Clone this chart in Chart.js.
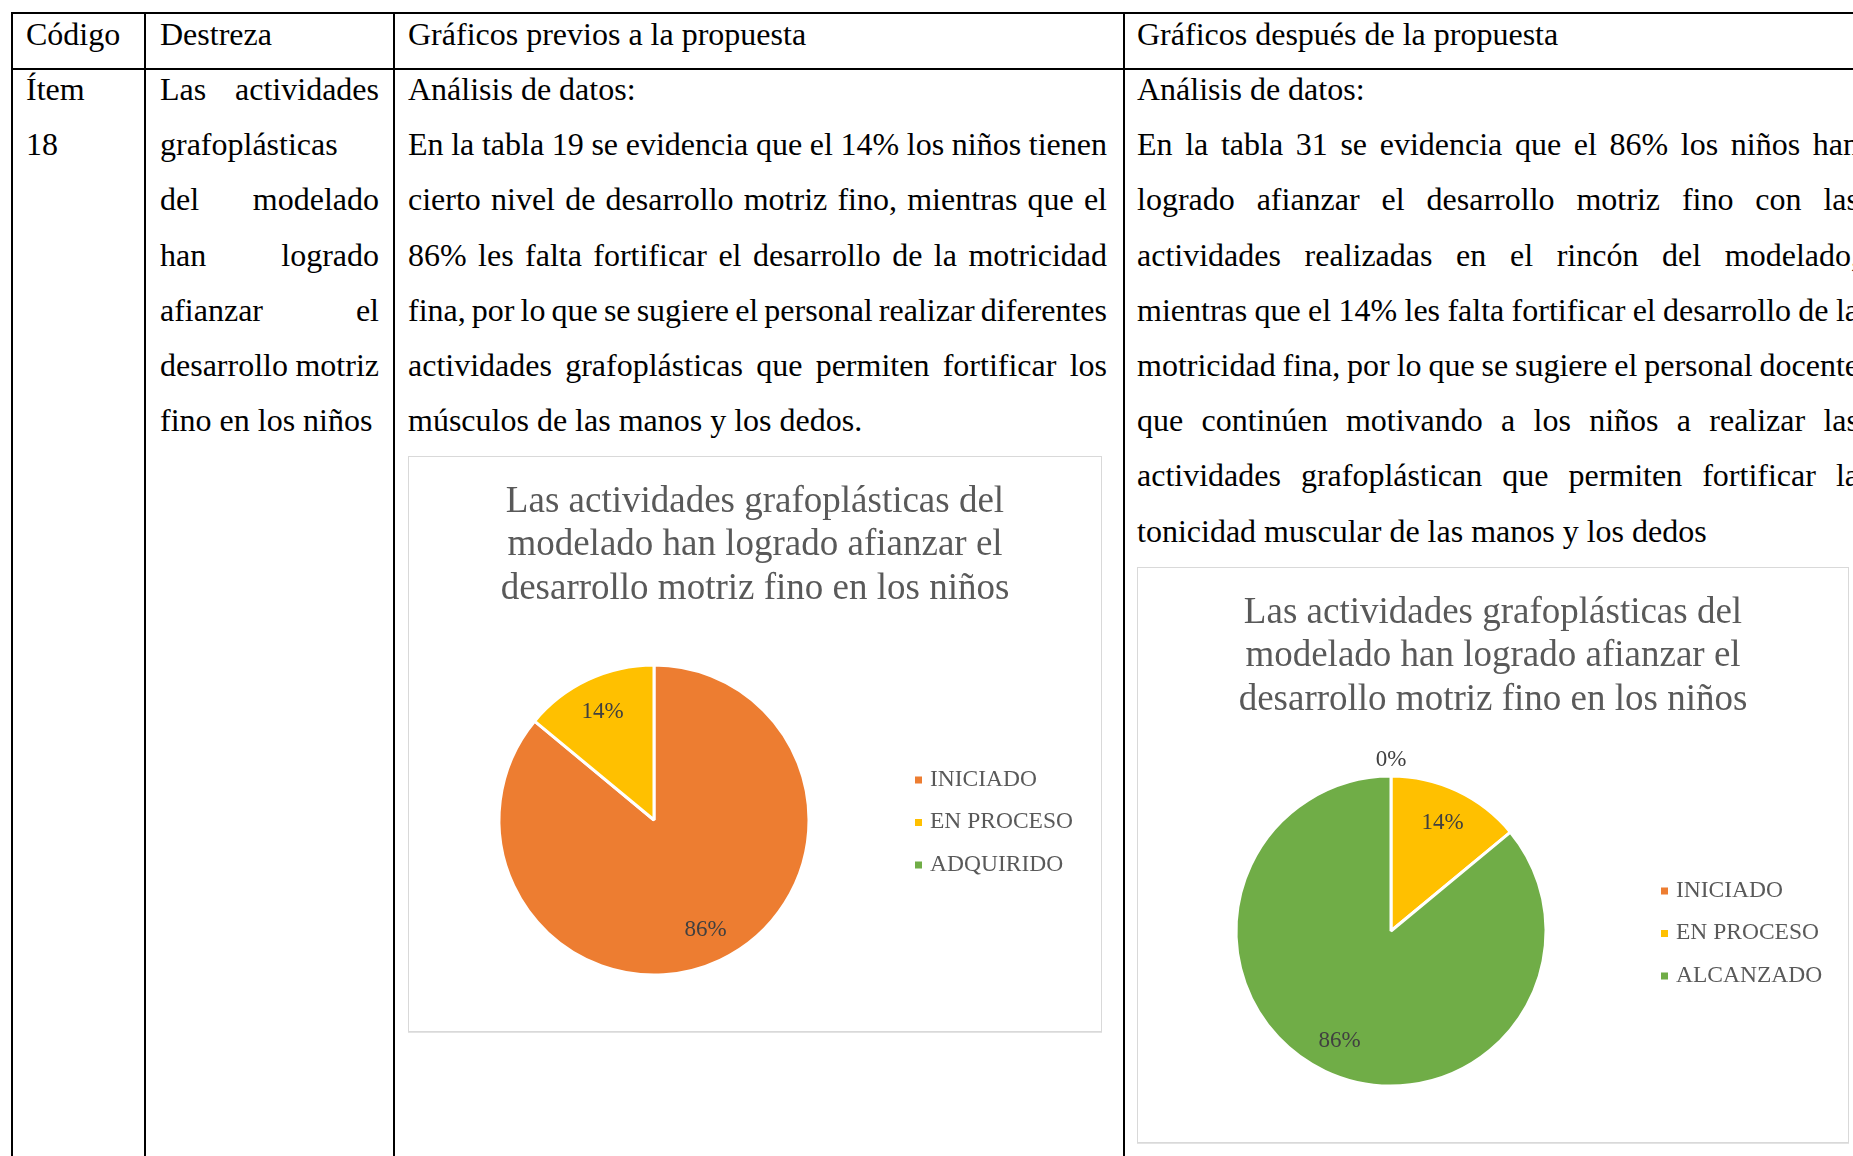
<!DOCTYPE html>
<html lang="es">
<head>
<meta charset="utf-8">
<title>Ítem 18 - gráficos previos y después de la propuesta</title>
<script src="https://cdn.jsdelivr.net/npm/chart.js@4.4.1/dist/chart.umd.min.js"></script>
<style>
  body {
    margin: 0;
    width: 1853px;
    height: 1156px;
    overflow: hidden;
    background: #fff;
    font-family: "Liberation Serif", "Times New Roman", serif;
    color: #000;
    position: relative;
  }
  .rule { position: absolute; background: #000; }
  .cell { position: absolute; font-size: 32px; line-height: 55.2px; }
  .cell div { white-space: nowrap; }
  .chart-box {
    position: absolute;
    border: 1px solid #d9d9d9;
    box-shadow: 0 1px 0 #e3e3e3;
    background: #fff;
  }
  .chart-box canvas { display: block; }
</style>
</head>
<body>

<!-- table rules -->
<div class="rule" style="left:11px; top:12px; width:1842px; height:2px;"></div>
<div class="rule" style="left:11px; top:68px; width:1842px; height:2px;"></div>
<div class="rule" style="left:11px; top:12px; width:2px; height:1144px;"></div>
<div class="rule" style="left:144px; top:12px; width:2px; height:1144px;"></div>
<div class="rule" style="left:393px; top:12px; width:2px; height:1144px;"></div>
<div class="rule" style="left:1123px; top:12px; width:2px; height:1144px;"></div>

<!-- header row -->
<div class="cell" style="left:26px; top:7px;"><div>Código</div></div>
<div class="cell" style="left:160px; top:7px;"><div>Destreza</div></div>
<div class="cell" style="left:408px; top:7px;"><div>Gráficos previos a la propuesta</div></div>
<div class="cell" style="left:1137px; top:7px;"><div>Gráficos después de la propuesta</div></div>

<!-- body row -->
<div class="cell" style="left:26px; top:62px;">
  <div>Ítem</div>
  <div>18</div>
</div>

<div class="cell" style="left:160px; top:62px; width:219px;">
  <div class="j">Las actividades</div>
  <div>grafoplásticas</div>
  <div class="j">del modelado</div>
  <div class="j">han logrado</div>
  <div class="j">afianzar el</div>
  <div class="j">desarrollo motriz</div>
  <div>fino en los niños</div>
</div>

<div class="cell" style="left:408px; top:62px; width:699px;">
  <div>Análisis de datos:</div>
  <div class="j">En la tabla 19 se evidencia que el 14% los niños tienen</div>
  <div class="j">cierto nivel de desarrollo motriz fino, mientras que el</div>
  <div class="j">86% les falta fortificar el desarrollo de la motricidad</div>
  <div class="j">fina, por lo que se sugiere el personal realizar diferentes</div>
  <div class="j">actividades grafoplásticas que permiten fortificar los</div>
  <div>músculos de las manos y los dedos.</div>
</div>

<div class="cell" style="left:1137px; top:62px; width:722px;">
  <div>Análisis de datos:</div>
  <div class="j">En la tabla 31 se evidencia que el 86% los niños han</div>
  <div class="j">logrado afianzar el desarrollo motriz fino con las</div>
  <div class="j">actividades realizadas en el rincón del modelado,</div>
  <div class="j">mientras que el 14% les falta fortificar el desarrollo de la</div>
  <div class="j">motricidad fina, por lo que se sugiere el personal docente</div>
  <div class="j">que continúen motivando a los niños a realizar las</div>
  <div class="j">actividades grafoplástican que permiten fortificar la</div>
  <div>tonicidad muscular de las manos y los dedos</div>
</div>

<div class="chart-box" style="left:408px; top:456px;">
  <canvas id="chartPrevio" width="692" height="574"></canvas>
</div>
<div class="chart-box" style="left:1137px; top:567px;">
  <canvas id="chartDespues" width="710" height="574"></canvas>
</div>

<script>
// categories and percentages of each pie
const estadosPrevios = ['INICIADO', 'EN PROCESO', 'ADQUIRIDO'];
const estadosDespues = ['INICIADO', 'EN PROCESO', 'ALCANZADO'];
const porcentajesPrevios = [86, 14, null];
const porcentajesDespues = [0, 14, 86];
const tituloLineas = [
  'Las actividades grafoplásticas del',
  'modelado han logrado afianzar el',
  'desarrollo motriz fino en los niños'
];

const coloresEstado = ['#ED7D31', '#FFC000', '#70AD47'];
const serif = '"Liberation Serif", "Times New Roman", serif';

// justify every line except the last of each paragraph
function justificar() {
  document.querySelectorAll('.cell .j').forEach(line => {
    const target = line.parentElement.clientWidth;
    line.style.wordSpacing = '0px';
    const range = document.createRange();
    range.selectNodeContents(line);
    const natural = range.getBoundingClientRect().width;
    const gaps = (line.textContent.trim().match(/ /g) || []).length;
    if (gaps > 0) line.style.wordSpacing = ((target - natural) / gaps) + 'px';
  });
}

// title, legend and percentage labels drawn over the pie
const decorPlugin = {
  id: 'decor',
  afterDraw(chart, args, opts) {
    const ctx = chart.ctx;
    ctx.save();
    ctx.textBaseline = 'middle';

    ctx.fillStyle = '#595959';
    ctx.font = '37px ' + serif;
    ctx.textAlign = 'center';
    opts.title.forEach((line, i) => {
      ctx.fillText(line, chart.width / 2, opts.titleTop + i * 43.5);
    });

    ctx.font = '23.5px ' + serif;
    ctx.textAlign = 'left';
    chart.data.labels.forEach((label, i) => {
      const y = opts.legendTop + i * 42.5;
      ctx.fillStyle = chart.data.datasets[0].backgroundColor[i];
      ctx.fillRect(opts.legendX, y - 3, 7, 7);
      ctx.fillStyle = '#595959';
      ctx.fillText(label, opts.legendX + 15, y);
    });

    const meta = chart.getDatasetMeta(0);
    const values = chart.data.datasets[0].data;
    ctx.font = '23px ' + serif;
    ctx.fillStyle = '#404040';
    ctx.textAlign = 'center';
    meta.data.forEach((arc, i) => {
      const v = values[i];
      if (v === null || v === undefined) return;
      const p = arc.getProps(['x', 'y', 'startAngle', 'endAngle', 'outerRadius'], true);
      const mid = (p.startAngle + p.endAngle) / 2;
      const dist = v > 0 ? p.outerRadius * 0.78 : p.outerRadius + 17;
      ctx.fillText(v + '%', p.x + Math.cos(mid) * dist, p.y + Math.sin(mid) * dist + 1);
    });
    ctx.restore();
  }
};

function pieChart(id, labels, values, padding, legendX) {
  return new Chart(document.getElementById(id), {
    type: 'pie',
    data: {
      labels: labels,
      datasets: [{
        data: values,
        backgroundColor: coloresEstado,
        borderColor: '#ffffff',
        borderWidth: 3,
        hoverOffset: 0
      }]
    },
    options: {
      responsive: false,
      animation: false,
      events: [],
      radius: 155,
      layout: { padding: padding },
      plugins: {
        legend: { display: false },
        tooltip: { enabled: false },
        decor: { title: tituloLineas, titleTop: 45, legendX: legendX, legendTop: 322.5 }
      }
    },
    plugins: [decorPlugin]
  });
}

document.fonts.ready.then(() => {
  justificar();
  pieChart('chartPrevio', estadosPrevios, porcentajesPrevios,
    { left: 90, right: 292, top: 208, bottom: 56 }, 506);
  pieChart('chartDespues', estadosDespues, porcentajesDespues,
    { left: 98, right: 302, top: 208, bottom: 56 }, 523);
});
</script>
</body>
</html>
